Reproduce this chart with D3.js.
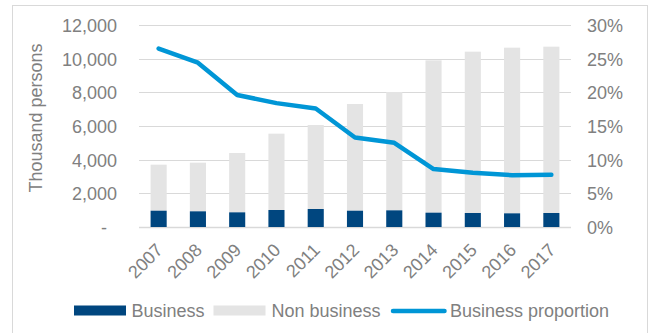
<!DOCTYPE html>
<html><head><meta charset="utf-8">
<script src="https://cdn.jsdelivr.net/npm/d3@7"></script>
<style>
html,body{margin:0;padding:0;background:#fff;}
svg{display:block;font-family:"Liberation Sans",Arial,sans-serif;}
</style></head>
<body>
<svg id="chart" width="651" height="333"></svg>
<script>
const years = ["2007","2008","2009","2010","2011","2012","2013","2014","2015","2016","2017"];
const business = [968, 931, 871, 1010, 1069, 968, 990, 851, 832, 812, 832];
const totals = [3703, 3822, 4396, 5545, 6060, 7307, 8020, 9901, 10415, 10653, 10712];
const proportion = [26.5, 24.4, 19.6, 18.4, 17.6, 13.3, 12.5, 8.6, 8.07, 7.7, 7.75];
const leftTicks = [0, 2000, 4000, 6000, 8000, 10000, 12000];
const rightTicks = [0, 5, 10, 15, 20, 25, 30];
const seriesNames = ["Business", "Non business", "Business proportion"];

const W = 651, H = 333;
const plot = {left: 139, right: 571, top: 25, bottom: 227};
const cDark = "#00467f", cLight = "#e4e4e4", cLine = "#0096d6", cText = "#808080", cGrid = "#d9d9d9";
const fs = "18px";

const svg = d3.select("#chart");
svg.append("rect").attr("x", 12.5).attr("y", 5.5).attr("width", 635).attr("height", 340)
  .attr("fill", "#fff").attr("stroke", "#d9d9d9").attr("stroke-width", 1);

const x = d3.scaleBand().domain(years).range([plot.left, plot.right]).paddingInner(0.59).paddingOuter(0.295);
const y = d3.scaleLinear().domain([0, 12000]).range([plot.bottom, plot.top]);
const y2 = d3.scaleLinear().domain([0, 30]).range([plot.bottom, plot.top]);

// gridlines
svg.append("g").selectAll("line").data(leftTicks).join("line")
  .attr("x1", plot.left).attr("x2", plot.right)
  .attr("y1", d => Math.round(y(d)) + 0.5).attr("y2", d => Math.round(y(d)) + 0.5)
  .attr("stroke", cGrid).attr("stroke-width", d => d === 0 ? 1.5 : 1.2);

// bars: non business (stacked on business)
const data = years.map((yr, i) => ({yr, b: business[i], t: totals[i]}));
svg.append("g").selectAll("rect").data(data).join("rect")
  .attr("x", d => x(d.yr)).attr("width", x.bandwidth())
  .attr("y", d => y(d.t)).attr("height", d => y(d.b) - y(d.t))
  .attr("fill", cLight);
svg.append("g").selectAll("rect").data(data).join("rect")
  .attr("x", d => x(d.yr)).attr("width", x.bandwidth())
  .attr("y", d => y(d.b)).attr("height", d => y(0) - y(d.b))
  .attr("fill", cDark);

// line
const line = d3.line().x((d, i) => x(years[i]) + x.bandwidth() / 2).y(d => y2(d));
svg.append("path").datum(proportion).attr("d", line)
  .attr("fill", "none").attr("stroke", cLine).attr("stroke-width", 4.5)
  .attr("stroke-linejoin", "round").attr("stroke-linecap", "round");

// left axis labels
const fmt = d3.format(",");
svg.append("g").selectAll("text").data(leftTicks).join("text")
  .attr("x", d => d === 0 ? 107 : 117).attr("y", d => y(d) + 1)
  .attr("text-anchor", "end").attr("dominant-baseline", "central")
  .attr("fill", cText).style("font-size", fs)
  .text(d => d === 0 ? "-" : fmt(d));

// right axis labels
svg.append("g").selectAll("text").data(rightTicks).join("text")
  .attr("x", 587).attr("y", d => y2(d) + 1)
  .attr("text-anchor", "start").attr("dominant-baseline", "central")
  .attr("fill", cText).style("font-size", fs)
  .text(d => d + "%");

// x labels rotated
svg.append("g").selectAll("text").data(years).join("text")
  .attr("transform", d => `translate(${x(d) + x.bandwidth() / 2 + 1},${247}) rotate(-45)`)
  .attr("text-anchor", "end").attr("dominant-baseline", "central")
  .attr("fill", cText).style("font-size", fs)
  .text(d => d);

// y axis title
svg.append("text").attr("transform", "translate(36,118) rotate(-90)")
  .attr("text-anchor", "middle").attr("dominant-baseline", "central")
  .attr("fill", cText).style("font-size", fs).text("Thousand persons");

// legend
const lg = svg.append("g");
lg.append("rect").attr("x", 74).attr("y", 305.5).attr("width", 52).attr("height", 10).attr("fill", cDark);
lg.append("text").attr("x", 131.5).attr("y", 310.5).attr("dominant-baseline", "central")
  .attr("fill", cText).style("font-size", fs).text(seriesNames[0]);
lg.append("rect").attr("x", 213.5).attr("y", 305.5).attr("width", 52).attr("height", 10).attr("fill", cLight);
lg.append("text").attr("x", 271.5).attr("y", 310.5).attr("dominant-baseline", "central")
  .attr("fill", cText).style("font-size", fs).text(seriesNames[1]);
lg.append("line").attr("x1", 393).attr("x2", 444.5).attr("y1", 311).attr("y2", 311)
  .attr("stroke", cLine).attr("stroke-width", 4.5).attr("stroke-linecap", "round");
lg.append("text").attr("x", 450).attr("y", 310.5).attr("dominant-baseline", "central")
  .attr("fill", cText).style("font-size", fs).text(seriesNames[2]);
</script>
</body></html>
